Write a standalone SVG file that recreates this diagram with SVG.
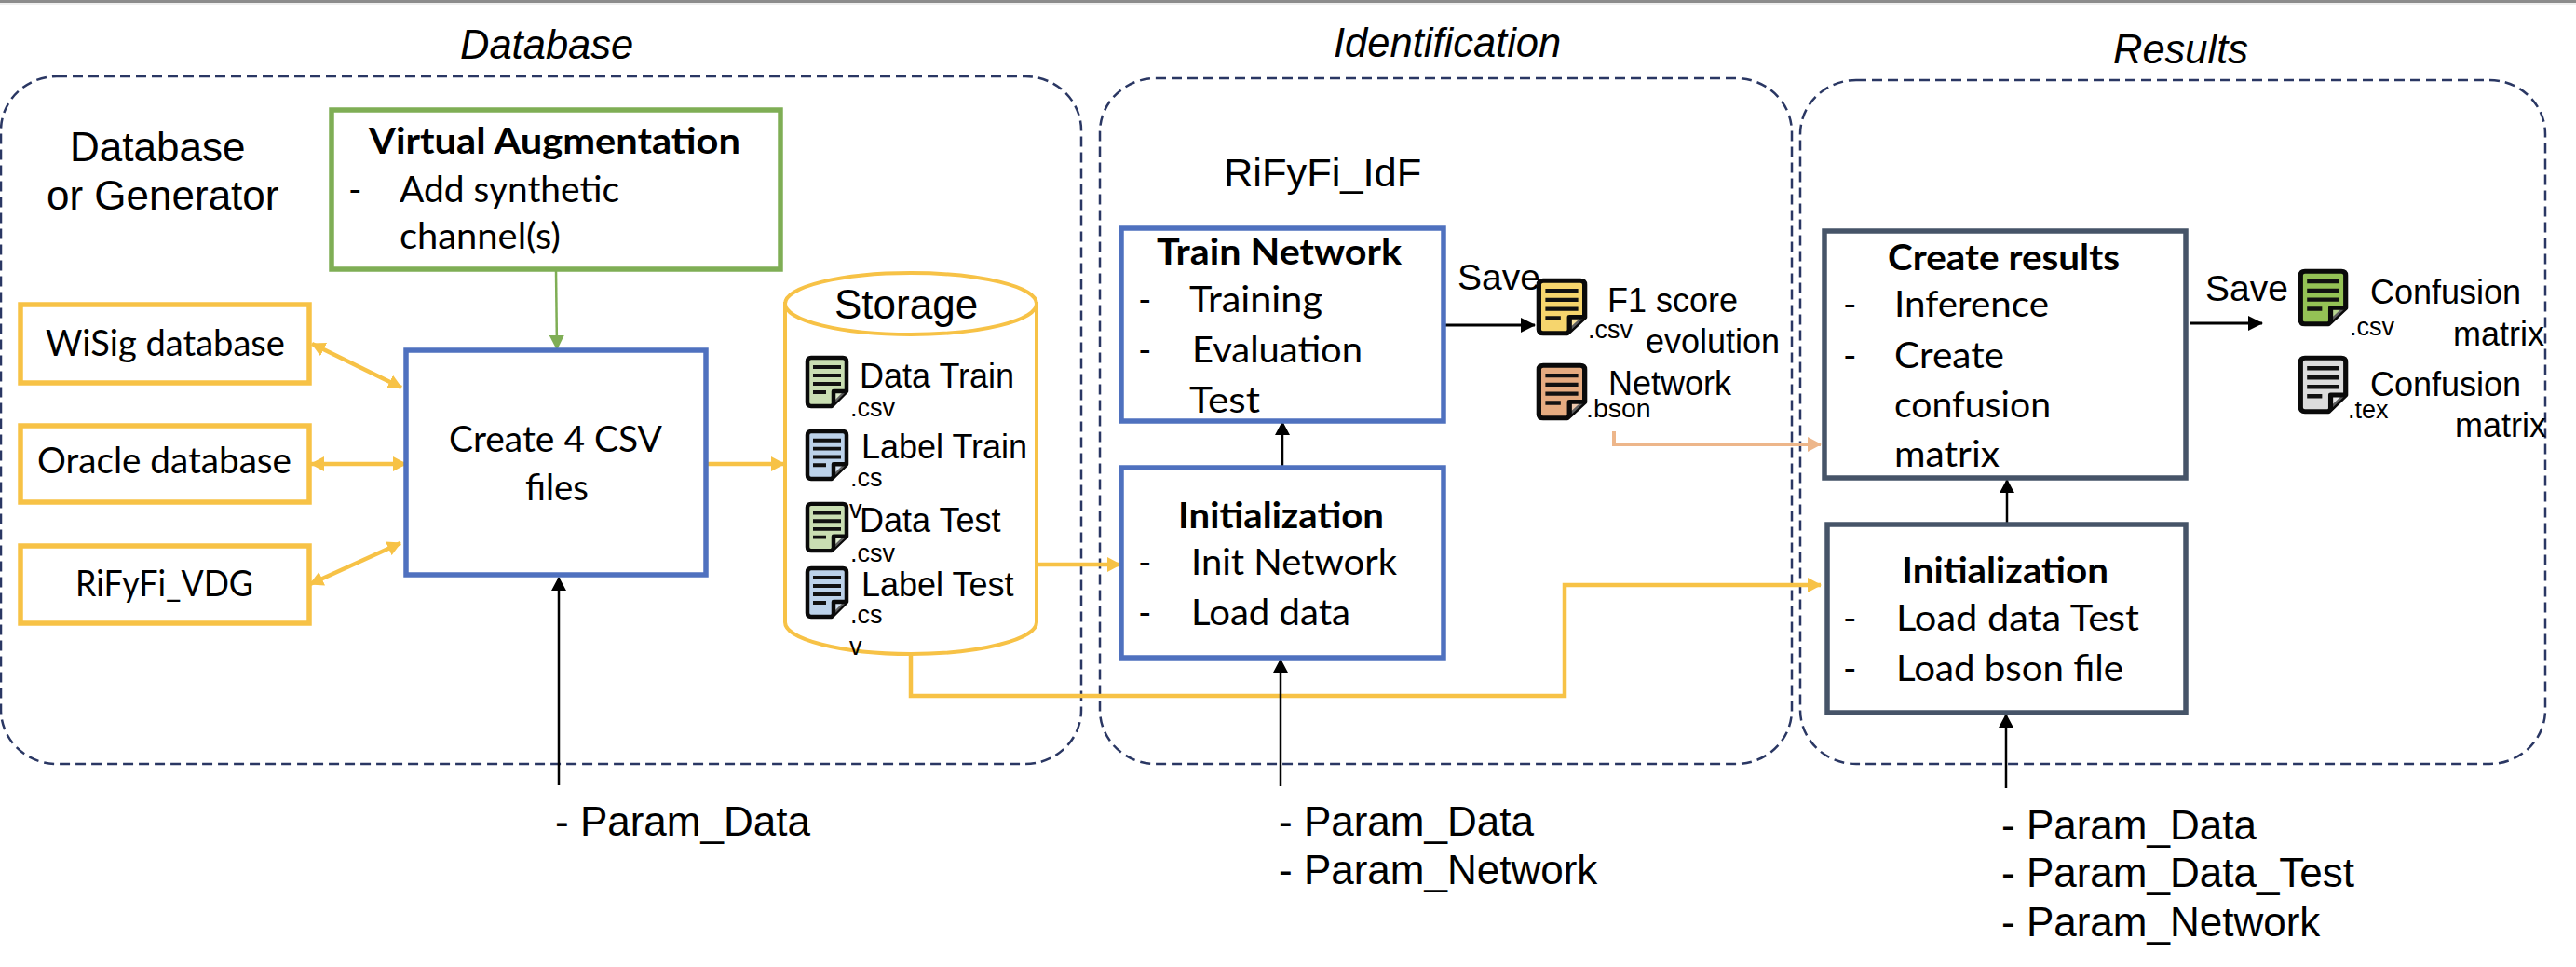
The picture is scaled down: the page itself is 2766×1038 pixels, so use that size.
<svg xmlns="http://www.w3.org/2000/svg" width="2766" height="1038" viewBox="0 0 2766 1038">
<style>
text{fill:#000;white-space:pre}
.a{font-family:"Liberation Sans",Arial,sans-serif}
.i{font-style:italic;font-size:43.5px}
.p{font-size:44px}
.s{font-size:36px}
.x{font-size:27px}
.c{font-family:Lato,"Open Sans",sans-serif;font-size:39px}
.b{font-weight:700}
.panel{fill:none;stroke:#2a3763;stroke-width:2.5;stroke-dasharray:11 6}
.box{fill:#fff;stroke-width:5.5}
.y{stroke:#f7c246}.bl{stroke:#4f71bf}.g{stroke:#7fae55}.d{stroke:#465468}
.ln{fill:none}
.k{stroke:#000;stroke-width:2.5}
.k3{stroke:#000;stroke-width:3}
.yl{stroke:#f7c246;stroke-width:4.5}
.or{stroke:#edb68a;stroke-width:4}
.gl{stroke:#7fae55;stroke-width:2.5}
.ic{stroke:#0a0a0a;stroke-width:4.5;stroke-linejoin:round}
.il{stroke:#111;stroke-width:4;fill:none}
</style>
<defs>
<marker id="mk" markerUnits="userSpaceOnUse" markerWidth="16" markerHeight="16" refX="15" refY="8" orient="auto-start-reverse"><path d="M0 0L16 8L0 16Z" fill="#000"/></marker>
<marker id="mkb" markerUnits="userSpaceOnUse" markerWidth="15" markerHeight="16" refX="14" refY="8" orient="auto-start-reverse"><path d="M0 0L15 8L0 16Z" fill="#000"/></marker>
<marker id="my" markerUnits="userSpaceOnUse" markerWidth="15" markerHeight="16" refX="14" refY="8" orient="auto-start-reverse"><path d="M0 0L15 8L0 16Z" fill="#f7c246"/></marker>
<marker id="mo" markerUnits="userSpaceOnUse" markerWidth="15" markerHeight="16" refX="14" refY="8" orient="auto"><path d="M0 0L15 8L0 16Z" fill="#edb68a"/></marker>
<marker id="mg" markerUnits="userSpaceOnUse" markerWidth="16" markerHeight="16" refX="15" refY="8" orient="auto"><path d="M0 0L16 8L0 16Z" fill="#7fae55"/></marker>
<symbol id="doc" viewBox="0 0 46 56" preserveAspectRatio="none" overflow="visible">
<path class="ic" d="M6 2H40Q44 2 44 6V38L28 54H6Q2 54 2 50V6Q2 2 6 2Z" fill="inherit"/>
<path class="ic" d="M30 52V38H44" fill="#fff" fill-opacity="0.35"/>
<path class="il" d="M8 12H38M8 21H38M8 30H38M8 39H22"/>
</symbol>
</defs>
<rect width="2766" height="3" fill="#8c8c8c"/>
<rect y="3" width="2766" height="2" fill="#efefef"/>

<g id="panels">
<rect id="panel-database" class="panel" x="1" y="82" width="1160" height="738" rx="60" ry="58"/>
<rect id="panel-identification" class="panel" x="1181" y="84" width="743" height="736" rx="60" ry="58"/>
<rect id="panel-results" class="panel" x="1933" y="86" width="800" height="734" rx="60" ry="58"/>
</g>
<text class="a i" x="494" y="63">Database</text>
<text class="a i" x="1432" y="61">Identification</text>
<text class="a i" x="2269" y="68">Results</text>
<text class="a p" x="75" y="173">Database</text>
<text class="a p" x="50" y="225">or Generator</text>
<text class="a p" x="1314" y="200" style="font-size:43.4px">RiFyFi_IdF</text>

<g id="connectors">
<path class="ln gl" d="M597 290L598 375" marker-end="url(#mg)"/>
<path class="ln yl" d="M335 369L431 416" marker-start="url(#my)" marker-end="url(#my)"/>
<path class="ln yl" d="M334 498L436 498" marker-start="url(#my)" marker-end="url(#my)"/>
<path class="ln yl" d="M333 627L430 583" marker-start="url(#my)" marker-end="url(#my)"/>
<path class="ln yl" d="M758 498L842 498" marker-end="url(#my)"/>
<path class="ln yl" d="M1114 606L1203 606" marker-end="url(#my)"/>
<path class="ln yl" d="M978 702V747H1680V628H1955" marker-end="url(#my)"/>
<path class="ln or" d="M1733 463V477H1955" marker-end="url(#mo)"/>
<path class="ln k" d="M600 843V620" marker-end="url(#mkb)"/>
<path class="ln k" d="M1375 844V708" marker-end="url(#mkb)"/>
<path class="ln k" d="M2154 846V767" marker-end="url(#mkb)"/>
<path class="ln k" d="M1377 502V453" marker-end="url(#mkb)"/>
<path class="ln k" d="M2155 562V515" marker-end="url(#mkb)"/>
<path class="ln k3" d="M1552 349H1648" marker-end="url(#mk)"/>
<path class="ln k3" d="M2351 347H2429" marker-end="url(#mk)"/>
</g>

<g id="virtual-augmentation">
<rect class="box g" x="356" y="118" width="482" height="171"/>
<text class="c b" x="396" y="165" textLength="399" lengthAdjust="spacingAndGlyphs">Virtual Augmentation</text>
<text class="c" x="374" y="217">-</text>
<text class="c" x="429" y="217" textLength="236" lengthAdjust="spacingAndGlyphs">Add synthetic</text>
<text class="c" x="429" y="267" textLength="173" lengthAdjust="spacingAndGlyphs">channel(s)</text>
</g>
<g id="wisig">
<rect class="box y" x="22" y="327" width="310" height="84"/>
<text class="c" x="49" y="382" textLength="257" lengthAdjust="spacingAndGlyphs">WiSig database</text>
</g>
<g id="oracle">
<rect class="box y" x="22" y="457" width="310" height="82"/>
<text class="c" x="40" y="508" textLength="273" lengthAdjust="spacingAndGlyphs">Oracle database</text>
</g>
<g id="vdg">
<rect class="box y" x="22" y="586" width="310" height="83"/>
<text class="c" x="81" y="640" textLength="191" lengthAdjust="spacingAndGlyphs">RiFyFi_VDG</text>
</g>
<g id="create-csv">
<rect class="box bl" x="436" y="376" width="322" height="241"/>
<text class="c" x="482" y="485" textLength="229" lengthAdjust="spacingAndGlyphs">Create 4 CSV</text>
<text class="c" x="564" y="537" textLength="68" lengthAdjust="spacingAndGlyphs">files</text>
</g>

<g id="storage">
<path d="M843 326V668C843 686 903 702 978 702S1113 686 1113 668V326Z" fill="#fff" stroke="#f7c246" stroke-width="4"/>
<ellipse cx="978" cy="326" rx="135" ry="33" fill="#fff" stroke="#f7c246" stroke-width="4"/>
<text class="a p" x="896" y="342">Storage</text>
<use href="#doc" x="865" y="382" width="46" height="56" fill="#c9deb2"/>
<use href="#doc" x="865" y="461" width="46" height="55" fill="#bcd2ea"/>
<use href="#doc" x="865" y="539" width="46" height="54" fill="#c9deb2"/>
<use href="#doc" x="865" y="608" width="46" height="56" fill="#bcd2ea"/>
<text class="a s" x="923" y="416">Data Train</text>
<text class="a x" x="913" y="447">.csv</text>
<text class="a s" x="925" y="492">Label Train</text>
<text class="a x" x="913" y="522">.cs</text>
<text class="a x" x="912" y="556">v</text>
<text class="a s" x="923" y="571">Data Test</text>
<text class="a x" x="913" y="603">.csv</text>
<text class="a s" x="925" y="640">Label Test</text>
<text class="a x" x="913" y="669">.cs</text>
<text class="a x" x="912" y="703">v</text>
</g>

<g id="train-network">
<rect class="box bl" x="1204" y="245" width="346" height="207"/>
<text class="c b" x="1242" y="284" textLength="263" lengthAdjust="spacingAndGlyphs">Train Network</text>
<text class="c" x="1222" y="335">-</text>
<text class="c" x="1277" y="335" textLength="143" lengthAdjust="spacingAndGlyphs">Training</text>
<text class="c" x="1222" y="389">-</text>
<text class="c" x="1280" y="389" textLength="183" lengthAdjust="spacingAndGlyphs">Evaluation</text>
<text class="c" x="1277" y="443" textLength="76" lengthAdjust="spacingAndGlyphs">Test</text>
</g>
<g id="initialization-1">
<rect class="box bl" x="1204" y="502" width="346" height="204"/>
<text class="c b" x="1265" y="567" textLength="221" lengthAdjust="spacingAndGlyphs">Initialization</text>
<text class="c" x="1222" y="617">-</text>
<text class="c" x="1279" y="617" textLength="221" lengthAdjust="spacingAndGlyphs">Init Network</text>
<text class="c" x="1222" y="671">-</text>
<text class="c" x="1279" y="671" textLength="171" lengthAdjust="spacingAndGlyphs">Load data</text>
</g>
<g id="f1-output">
<text class="a s" x="1565" y="311" style="font-size:39px">Save</text>
<use href="#doc" x="1650" y="299" width="54" height="61" fill="#f6d56d"/>
<text class="a x" x="1705" y="363">.csv</text>
<text class="a s" x="1726" y="335">F1 score</text>
<text class="a s" x="1767" y="379">evolution</text>
</g>
<g id="network-output">
<use href="#doc" x="1650" y="390" width="54" height="61" fill="#e5ab80"/>
<text class="a x" x="1703" y="448" style="font-size:28.5px">.bson</text>
<text class="a s" x="1727" y="424">Network</text>
</g>

<g id="create-results">
<rect class="box d" x="1959" y="248" width="388" height="265"/>
<text class="c b" x="2027" y="290" textLength="249" lengthAdjust="spacingAndGlyphs">Create results</text>
<text class="c" x="1979" y="340">-</text>
<text class="c" x="2034" y="340" textLength="166" lengthAdjust="spacingAndGlyphs">Inference</text>
<text class="c" x="1979" y="395">-</text>
<text class="c" x="2034" y="395" textLength="118" lengthAdjust="spacingAndGlyphs">Create</text>
<text class="c" x="2034" y="448" textLength="168" lengthAdjust="spacingAndGlyphs">confusion</text>
<text class="c" x="2034" y="501" textLength="113" lengthAdjust="spacingAndGlyphs">matrix</text>
</g>
<g id="initialization-2">
<rect class="box d" x="1962" y="563" width="385" height="202"/>
<text class="c b" x="2042" y="626" textLength="222" lengthAdjust="spacingAndGlyphs">Initialization</text>
<text class="c" x="1979" y="677">-</text>
<text class="c" x="2036" y="677" textLength="261" lengthAdjust="spacingAndGlyphs">Load data Test</text>
<text class="c" x="1979" y="731">-</text>
<text class="c" x="2036" y="731" textLength="244" lengthAdjust="spacingAndGlyphs">Load bson file</text>
</g>
<g id="csv-output">
<text class="a s" x="2368" y="323" style="font-size:39px">Save</text>
<use href="#doc" x="2468" y="289" width="53" height="61" fill="#94c255"/>
<text class="a x" x="2523" y="360">.csv</text>
<text class="a s" x="2545" y="326">Confusion</text>
<text class="a s" x="2634" y="371">matrix</text>
</g>
<g id="tex-output">
<use href="#doc" x="2468" y="382" width="53" height="62" fill="#dcdcdc"/>
<text class="a x" x="2521" y="449">.tex</text>
<text class="a s" x="2545" y="425">Confusion</text>
<text class="a s" x="2636" y="469">matrix</text>
</g>

<g id="params">
<text class="a p" x="596" y="897">- Param_Data</text>
<text class="a p" x="1373" y="897">- Param_Data</text>
<text class="a p" x="1373" y="949">- Param_Network</text>
<text class="a p" x="2149" y="901">- Param_Data</text>
<text class="a p" x="2149" y="952">- Param_Data_Test</text>
<text class="a p" x="2149" y="1005">- Param_Network</text>
</g>
</svg>
